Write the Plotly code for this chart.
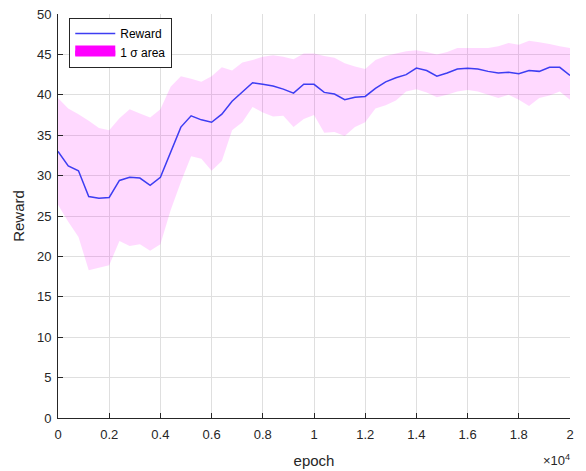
import plotly.graph_objects as go

epochs = list(range(0, 20001, 400))
reward_mean = [33.0, 31.2, 30.6, 27.4, 27.2, 27.3, 29.4, 29.8, 29.7, 28.8,
               29.8, 33.0, 36.0, 37.4, 36.9, 36.6, 37.6, 39.2, 40.3, 41.5,
               41.3, 41.1, 40.7, 40.2, 41.3, 41.3, 40.3, 40.1, 39.4, 39.7,
               39.8, 40.8, 41.6, 42.1, 42.5, 43.3, 43.0, 42.3, 42.7, 43.2,
               43.3, 43.2, 42.9, 42.7, 42.8, 42.6, 43.0, 42.9, 43.4, 43.4,
               42.4]
reward_upper = [39.6, 38.3, 37.6, 36.8, 35.9, 35.6, 37.1, 38.2, 37.7, 37.2,
                38.2, 41.0, 42.3, 42.0, 41.6, 42.3, 43.4, 43.0, 44.0, 44.3,
                44.7, 44.9, 44.7, 44.4, 45.1, 45.1, 44.8, 44.6, 43.9, 43.5,
                43.2, 44.3, 44.8, 45.1, 45.4, 45.5, 45.3, 45.0, 45.3, 45.8,
                45.8, 45.8, 45.8, 46.0, 46.4, 46.2, 46.7, 46.5, 46.3, 46.0,
                45.8]
reward_lower = [26.4, 24.3, 22.4, 18.3, 18.6, 18.9, 21.9, 21.3, 21.5, 20.7,
                21.5, 25.7, 29.2, 32.4, 32.1, 30.6, 31.8, 35.6, 36.6, 38.5,
                37.8, 37.3, 37.4, 36.0, 37.0, 37.5, 35.3, 35.4, 34.9, 36.0,
                36.6, 38.3, 38.7, 39.3, 40.4, 40.7, 40.3, 39.7, 40.0, 40.4,
                40.6, 40.4, 40.0, 39.6, 40.0, 39.4, 38.6, 39.6, 39.9, 40.4,
                39.4]
x_tick_vals = list(range(0, 20001, 2000))
x_tick_text = ['0', '0.2', '0.4', '0.6', '0.8', '1', '1.2', '1.4', '1.6', '1.8', '2']
y_tick_vals = list(range(0, 51, 5))

FONT = "Liberation Sans, Arial, sans-serif"
TXT = "#262626"

fig = go.Figure()
# shaded 1-sigma band
fig.add_trace(go.Scatter(
    x=epochs + epochs[::-1], y=reward_upper + reward_lower[::-1],
    fill="toself", fillcolor="rgba(255,0,255,0.15)", mode="none",
    line=dict(width=0), showlegend=False, hoverinfo="skip"))
# mean line
fig.add_trace(go.Scatter(
    x=epochs, y=reward_mean, mode="lines", name="Reward",
    line=dict(color="#3d3df2", width=1.5)))
# legend entry for the band
fig.add_trace(go.Scatter(
    x=[None], y=[None], mode="lines", fill="toself", fillcolor="#ff00ff",
    line=dict(color="#ff00ff", width=14), name="1 \u03c3 area"))

fig.update_layout(
    width=586, height=471,
    margin=dict(l=58, r=16, t=14, b=53),
    paper_bgcolor="white", plot_bgcolor="white",
    font=dict(family=FONT, size=13, color=TXT),
    legend=dict(x=0.022, y=0.99, xanchor="left", yanchor="top",
                bgcolor="white", bordercolor="#262626", borderwidth=1,
                font=dict(size=12, color="#000000"),
                tracegroupgap=0, itemwidth=40),
    annotations=[dict(text="\u00d710<sup>4</sup>", xref="paper", yref="paper",
                      x=1.004, y=-0.128, xanchor="right", yanchor="bottom",
                      showarrow=False, font=dict(size=13, color=TXT))],
)
fig.update_xaxes(
    range=[0, 20000], tickvals=x_tick_vals, ticktext=x_tick_text,
    showline=True, linecolor=TXT, linewidth=1, mirror=False,
    ticks="inside", ticklen=5, tickcolor=TXT, ticklabelstandoff=4,
    showgrid=True, gridcolor="#dfdfdf", gridwidth=1, zeroline=False,
    automargin=False,
    title=dict(text="epoch", font=dict(size=15, color=TXT), standoff=14),
    tickfont=dict(size=13, color=TXT))
fig.update_yaxes(
    range=[0, 50], tickvals=y_tick_vals,
    showline=True, linecolor=TXT, linewidth=1, mirror=False,
    ticks="inside", ticklen=5, tickcolor=TXT, ticklabelstandoff=3,
    showgrid=True, gridcolor="#dfdfdf", gridwidth=1, zeroline=False,
    automargin=False,
    title=dict(text="Reward", font=dict(size=15, color=TXT), standoff=8),
    tickfont=dict(size=13, color=TXT))

fig.write_html("out.html")
